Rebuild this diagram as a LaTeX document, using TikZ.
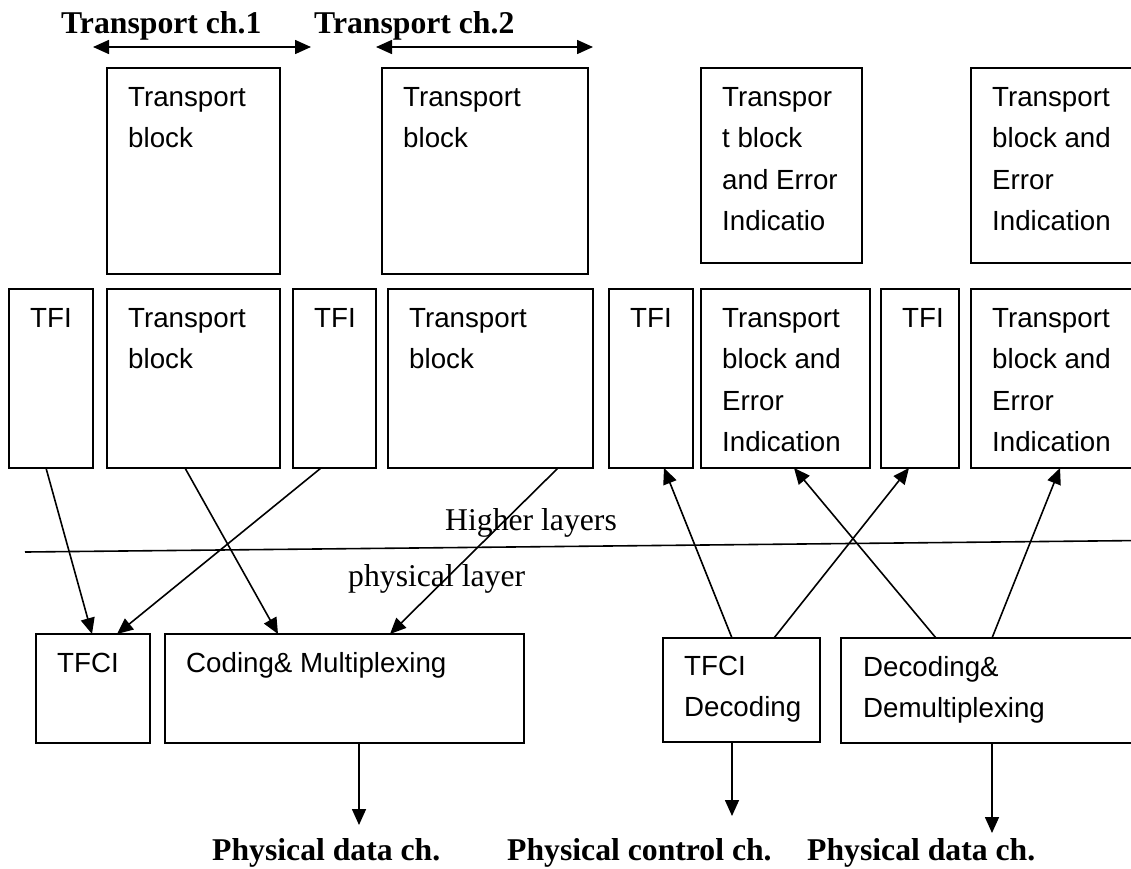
\documentclass[tikz,border=0pt]{standalone}
\usepackage{fontspec}
\setmainfont{Liberation Serif}
\newfontfamily\boxsans{Liberation Sans}
\usetikzlibrary{arrows.meta}
% strut that fixes the height of the first text line inside a box
\newcommand\lineone{\rule{0pt}{22pt}}
\begin{document}
\begin{tikzpicture}[x=1pt,y=-1pt,
  box/.style={draw, line width=1.6pt, inner sep=0pt, outer sep=0pt, anchor=north west},
  btext/.style={font=\boxsans\fontsize{27.7}{41.5}\selectfont, align=left, inner sep=0pt, anchor=north west},
  lbl/.style={font=\fontsize{31.7}{38}\selectfont, inner sep=0pt, anchor=base west},
  blbl/.style={font=\bfseries\fontsize{31.7}{38}\selectfont, inner sep=0pt, anchor=base west},
  conn/.style={line width=1.6pt, -{Triangle[length=16pt,width=14pt]}},
  chan/.style={line width=1.6pt, {Triangle[length=16pt,width=14pt]}-{Triangle[length=16pt,width=14pt]}},
]
\useasboundingbox (0,0) rectangle (1131,868);
\clip (0,0) rectangle (1131,868);

% transport channel headers
\node[blbl] (ch1) at (61,33) {Transport ch.1};
\node[blbl] (ch2) at (314,33) {Transport ch.2};
\coordinate (c1a) at (93,47);  \coordinate (c1b) at (311,47);
\coordinate (c2a) at (376,47); \coordinate (c2b) at (593,47);
\draw[chan] (c1a) -- (c1b);
\draw[chan] (c2a) -- (c2b);

% upper row of transport blocks
\node[box, minimum width=173pt, minimum height=206pt] (T1) at (107,68) {};
\node[box, minimum width=206pt, minimum height=206pt] (T2) at (382,68) {};
\node[box, minimum width=161pt, minimum height=195pt] (T3) at (701,68) {};
\node[box, minimum width=200pt, minimum height=195pt] (T4) at (971,68) {};
\node[btext] (T1t) at ([shift={(21,16)}]T1.north west) {\lineone Transport\\block};
\node[btext] (T2t) at ([shift={(21,16)}]T2.north west) {\lineone Transport\\block};
\node[btext] (T3t) at ([shift={(21,16)}]T3.north west) {\lineone Transpor\\t block\\and Error\\Indicatio};
\node[btext] (T4t) at ([shift={(21,16)}]T4.north west) {\lineone Transport\\block and\\Error\\Indication};

% row of TFI and transport blocks
\node[box, minimum width=84pt,  minimum height=179pt] (F1) at (9,289) {};
\node[box, minimum width=173pt, minimum height=179pt] (B1) at (107,289) {};
\node[box, minimum width=83pt,  minimum height=179pt] (F2) at (293,289) {};
\node[box, minimum width=205pt, minimum height=179pt] (B2) at (388,289) {};
\node[box, minimum width=84pt,  minimum height=179pt] (F3) at (609,289) {};
\node[box, minimum width=169pt, minimum height=179pt] (B3) at (701,289) {};
\node[box, minimum width=78pt,  minimum height=179pt] (F4) at (881,289) {};
\node[box, minimum width=200pt, minimum height=179pt] (B4) at (971,289) {};
\node[btext] (F1t) at ([shift={(21,16)}]F1.north west) {\lineone TFI};
\node[btext] (B1t) at ([shift={(21,16)}]B1.north west) {\lineone Transport\\block};
\node[btext] (F2t) at ([shift={(21,16)}]F2.north west) {\lineone TFI};
\node[btext] (B2t) at ([shift={(21,16)}]B2.north west) {\lineone Transport\\block};
\node[btext] (F3t) at ([shift={(21,16)}]F3.north west) {\lineone TFI};
\node[btext] (B3t) at ([shift={(21,16)}]B3.north west) {\lineone Transport\\block and\\Error\\Indication};
\node[btext] (F4t) at ([shift={(21,16)}]F4.north west) {\lineone TFI};
\node[btext] (B4t) at ([shift={(21,16)}]B4.north west) {\lineone Transport\\block and\\Error\\Indication};

% layer boundary
\draw[line width=1.6pt] (25,552) -- (1140,540.5);
\node[lbl] (hl) at (445,530) {Higher layers};
\node[lbl] (pl) at (348,586) {physical layer};

% physical layer blocks
\node[box, minimum width=114pt, minimum height=109pt] (C1) at (36,634) {};
\node[box, minimum width=359pt, minimum height=109pt] (C2) at (165,634) {};
\node[box, minimum width=157pt, minimum height=104pt] (C3) at (663,638) {};
\node[box, minimum width=300pt, minimum height=105pt] (C4) at (841,638) {};
\node[btext] (C1t) at ([shift={(21,16)}]C1.north west) {\lineone TFCI};
\node[btext] (C2t) at ([shift={(21,16)}]C2.north west) {\lineone Coding\& Multiplexing};
\node[btext] (C3t) at ([shift={(21,15)}]C3.north west) {\lineone TFCI\\Decoding};
\node[btext] (C4t) at ([shift={(22,16)}]C4.north west) {\lineone Decoding\&\\Demultiplexing};

% transmit side
\draw[conn] ([xshift=37pt]F1.south west) -- ([xshift=56pt]C1.north west);
\draw[conn] ([xshift=78pt]B1.south west) -- ([xshift=113pt]C2.north west);
\draw[conn] ([xshift=28pt]F2.south west) -- ([xshift=81pt]C1.north west);
\draw[conn] ([xshift=170pt]B2.south west) -- ([xshift=225pt]C2.north west);

% receive side
\draw[conn] ([xshift=69pt]C3.north west) -- ([xshift=55pt]F3.south west);
\draw[conn] ([xshift=111pt]C3.north west) -- ([xshift=28pt]F4.south west);
\draw[conn] ([xshift=95pt]C4.north west) -- ([xshift=93pt]B3.south west);
\draw[conn] ([xshift=151pt]C4.north west) -- ([xshift=89pt]B4.south west);

% physical channels
\coordinate (o1) at (359,825);
\coordinate (o2) at (732,816);
\coordinate (o3) at (992,833);
\draw[conn] ([xshift=194pt]C2.south west) -- (o1);
\draw[conn] ([xshift=69pt]C3.south west) -- (o2);
\draw[conn] ([xshift=151pt]C4.south west) -- (o3);
\node[blbl] (p1) at (212,860) {Physical data ch.};
\node[blbl] (p2) at (507,860) {Physical control ch.};
\node[blbl] (p3) at (807,860) {Physical data ch.};
\end{tikzpicture}
\end{document}
